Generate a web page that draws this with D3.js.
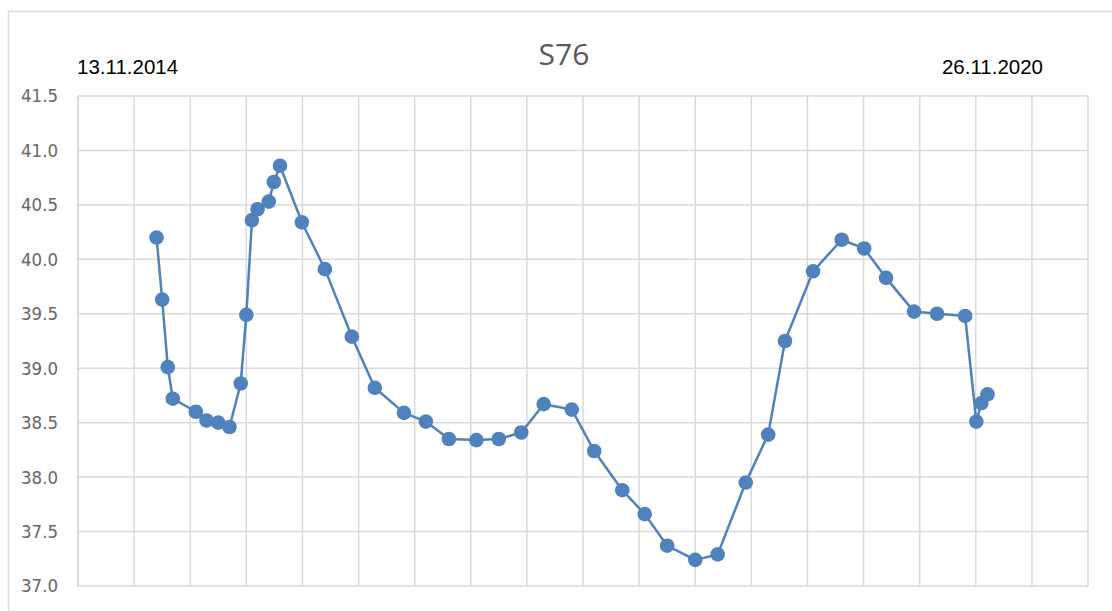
<!DOCTYPE html>
<html>
<head>
<meta charset="utf-8">
<script src="https://cdn.jsdelivr.net/npm/d3@7"></script>
<style>
  body { margin: 0; background: #fff; }
  svg { display: block; }
</style>
</head>
<body>
<div id="chart"></div>
<script>
// chart data (x in axis grid units, y in measured value)
var title = "S76";
var startLabel = "13.11.2014";
var endLabel = "26.11.2020";
var xPos = [1.40, 1.50, 1.60, 1.69, 2.10, 2.29, 2.50, 2.70, 2.90, 3.00, 3.10, 3.20, 3.40, 3.49, 3.60,
            3.99, 4.40, 4.88, 5.29, 5.81, 6.20, 6.61, 7.10, 7.50, 7.90, 8.30, 8.80, 9.20, 9.70, 10.10,
            10.50, 11.00, 11.40, 11.90, 12.30, 12.60, 13.10, 13.61, 14.01, 14.40, 14.90, 15.31, 15.81,
            16.01, 16.10, 16.21];
var values = [40.20, 39.63, 39.01, 38.72, 38.60, 38.52, 38.50, 38.46, 38.86, 39.49, 40.36, 40.46, 40.53, 40.71, 40.86,
              40.34, 39.91, 39.29, 38.82, 38.59, 38.51, 38.35, 38.34, 38.35, 38.41, 38.67, 38.62, 38.24, 37.88, 37.66,
              37.37, 37.24, 37.29, 37.95, 38.39, 39.25, 39.89, 40.18, 40.10, 39.83, 39.52, 39.50, 39.48,
              38.51, 38.68, 38.76];
var yTicks = [37.0, 37.5, 38.0, 38.5, 39.0, 39.5, 40.0, 40.5, 41.0, 41.5];
var xGrid = d3.range(0, 19);

var width = 1112,
    height = 611;
var margin = {top: 96, right: 24, bottom: 25, left: 78};

var svg = d3.select("#chart")
    .append("svg")
    .attr("width", width)
    .attr("height", height);

// outer chart border
svg.append("rect")
    .attr("x", 8.5)
    .attr("y", 11.5)
    .attr("width", width)
    .attr("height", height)
    .attr("fill", "none")
    .attr("stroke", "#d9d9d9")
    .attr("stroke-width", 1.5);

var x = d3.scaleLinear()
    .domain([0, 18])
    .range([margin.left, width - margin.right]);

var y = d3.scaleLinear()
    .domain([37, 41.5])
    .range([height - margin.bottom, margin.top]);

// grid
svg.append("g")
    .attr("class", "hgrid")
    .selectAll("line")
    .data(yTicks)
    .enter()
    .append("line")
    .attr("x1", x(0))
    .attr("x2", x(18))
    .attr("y1", function (d) { return y(d); })
    .attr("y2", function (d) { return y(d); })
    .attr("stroke", "#d9d9d9")
    .attr("stroke-width", 1.5);

svg.append("g")
    .attr("class", "vgrid")
    .selectAll("line")
    .data(xGrid)
    .enter()
    .append("line")
    .attr("x1", function (d) { return x(d); })
    .attr("x2", function (d) { return x(d); })
    .attr("y1", y(37))
    .attr("y2", y(41.5))
    .attr("stroke", function (d) { return d === 0 ? "#cfcfcf" : "#d9d9d9"; })
    .attr("stroke-width", 1.5);

// y axis labels
var yAxis = d3.axisLeft(y)
    .tickValues(yTicks)
    .tickFormat(d3.format(".1f"))
    .tickSize(0)
    .tickPadding(20);

var gy = svg.append("g")
    .attr("transform", "translate(" + margin.left + ",0)")
    .call(yAxis);
gy.select(".domain").remove();
gy.selectAll("text")
    .attr("fill", "#666")
    .style("font-family", "'Liberation Sans Narrow', 'Arial Narrow', 'DejaVu Sans Condensed', sans-serif")
    .style("font-size", "18.5px");

// title and date labels
svg.append("text")
    .attr("x", 564)
    .attr("y", 65)
    .attr("text-anchor", "middle")
    .attr("fill", "#595959")
    .style("font-family", "'Open Sans', sans-serif")
    .style("font-size", "30px")
    .text(title);

svg.append("text")
    .attr("x", 77)
    .attr("y", 74)
    .attr("fill", "#000")
    .style("font-family", "'Liberation Sans', Arial, sans-serif")
    .style("font-size", "20.5px")
    .text(startLabel);

svg.append("text")
    .attr("x", 1043)
    .attr("y", 74)
    .attr("text-anchor", "end")
    .attr("fill", "#000")
    .style("font-family", "'Liberation Sans', Arial, sans-serif")
    .style("font-size", "20.5px")
    .text(endLabel);

// series
var points = xPos.map(function (d, i) { return {x: d, v: values[i]}; });

var line = d3.line()
    .x(function (d) { return x(d.x); })
    .y(function (d) { return y(d.v); });

svg.append("path")
    .datum(points)
    .attr("d", line)
    .attr("fill", "none")
    .attr("stroke", "#4f81bd")
    .attr("stroke-width", 2.5)
    .attr("stroke-linejoin", "round");

svg.append("g")
    .attr("class", "dots")
    .selectAll("circle")
    .data(points)
    .enter()
    .append("circle")
    .attr("cx", function (d) { return x(d.x); })
    .attr("cy", function (d) { return y(d.v); })
    .attr("r", 7.3)
    .attr("fill", "#4f81bd");
</script>
</body>
</html>
